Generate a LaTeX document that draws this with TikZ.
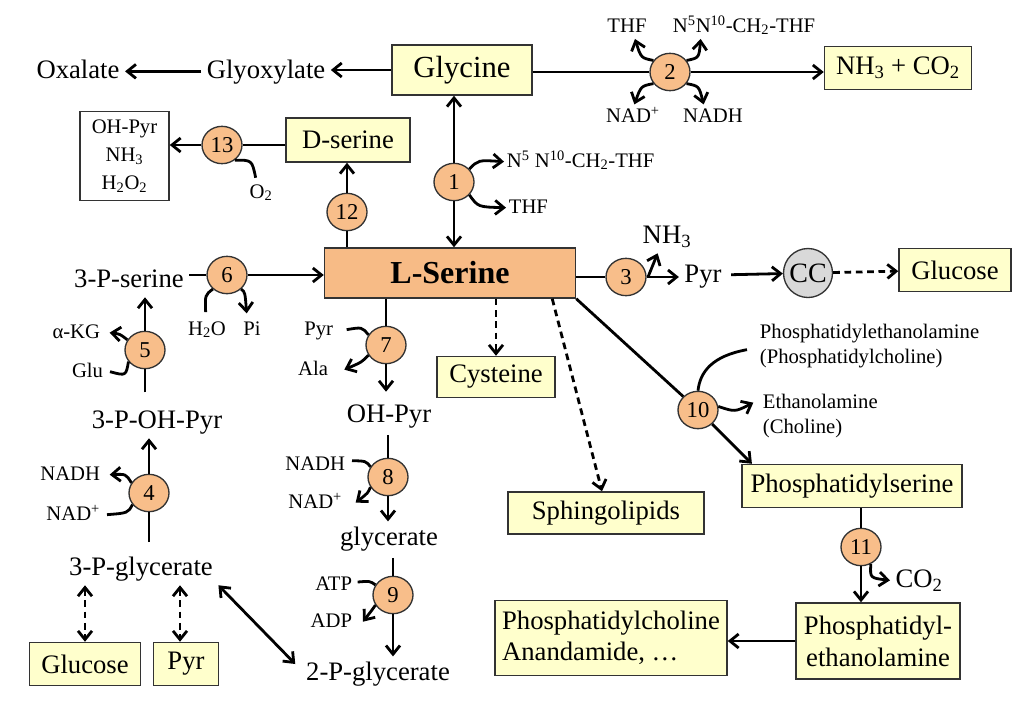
\documentclass[tikz,border=0pt]{standalone}
\usepackage{fontspec}
\setmainfont{Liberation Serif}
\usetikzlibrary{arrows.meta,shapes.geometric}
\definecolor{boxy}{HTML}{FFFFCC}
\definecolor{orng}{HTML}{F8BE8A}
\definecolor{sergb}{HTML}{F7BB86}
\definecolor{ccg}{HTML}{D9D9D9}
\definecolor{edge}{HTML}{333333}
\tikzset{
 big/.style={font=\fontsize{20}{24}\selectfont, inner xsep=4pt, inner ysep=3.5pt, text height=14pt, text depth=4pt},
 sml/.style={font=\fontsize{15.5}{18}\selectfont, inner xsep=2pt, inner ysep=2pt, text height=11pt, text depth=3pt},
 ybox/.style={draw=edge, fill=boxy, line width=1.1pt, inner sep=0pt, align=center, font=\fontsize{20}{23}\selectfont},
 enz/.style={ellipse, draw=edge, fill=orng, line width=1pt, minimum width=30pt, minimum height=28pt, inner sep=0pt, font=\fontsize{17}{17}\selectfont},
 ln/.style={line width=2.1pt},
 ar/.style={ln, -{Straight Barb[length=6.5pt,width=10.5pt]}},
 dar/.style={ln, {Straight Barb[length=6.5pt,width=10.5pt]}-{Straight Barb[length=6.5pt,width=10.5pt]}},
 dsh/.style={dash pattern=on 5pt off 3.5pt},
}
\begin{document}
\begin{tikzpicture}[x=0.75pt,y=-0.75pt]
\useasboundingbox (0,0) rectangle (1025,701);
% boxes
\node[ybox, minimum width=105pt, minimum height=37.5pt, font=\fontsize{23}{26}\selectfont] (gly) at (462,70) {Glycine};
\node[ybox, minimum width=110.25pt, minimum height=32.25pt] (nhco) at (898,68) {NH\textsubscript{3} + CO\textsubscript{2}};
\node[ybox, minimum width=93pt, minimum height=33pt] (dser) at (348,140) {D-serine};
\node[draw=edge, fill=white, line width=1.1pt, minimum width=66.75pt, minimum height=66.75pt, align=center, font=\fontsize{15.5}{21}\selectfont, inner sep=0pt] (ohbox) at (124.5,156) {OH-Pyr\\NH\textsubscript{3}\\H\textsubscript{2}O\textsubscript{2}};
\node[draw=edge, fill=sergb, line width=1.1pt, minimum width=188.25pt, minimum height=37.5pt, inner sep=0pt, font=\fontsize{24}{26}\selectfont\bfseries] (lser) at (450,273) {L-Serine};
\node[ybox, minimum width=88.5pt, minimum height=30.75pt] (cys) at (496,377) {Cysteine};
\node[ybox, minimum width=147pt, minimum height=31.5pt] (sph) at (606,513) {Sphingolipids};
\node[ybox, minimum width=84pt, minimum height=32.25pt] (glcR) at (955,270) {Glucose};
\node[ybox, minimum width=165pt, minimum height=32.25pt] (ps) at (852,486) {Phosphatidylserine};
\node[ybox, minimum width=123pt, minimum height=57pt, font=\fontsize{20}{24}\selectfont] (pe) at (878,641) {Phosphatidyl-\\ethanolamine};
\node[ybox, minimum width=174pt, minimum height=56.25pt, align=left] (pc) at (611,638) {Phosphatidylcholine\\Anandamide, …};
\node[ybox, minimum width=83.25pt, minimum height=32.25pt] (glcL) at (85,664) {Glucose};
\node[ybox, minimum width=48.75pt, minimum height=32.25pt] (pyrb) at (186,664) {Pyr};
% big labels
\node[big, anchor=base] (oxa) at (78,78) {Oxalate};
\node[big, anchor=base] (glyx) at (266,78) {Glyoxylate};
\node[big, anchor=base] (pser) at (129,287) {3-P-serine};
\node[big, anchor=base] (pohp) at (157,428) {3-P-OH-Pyr};
\node[big, anchor=base] (pgly) at (141,575) {3-P-glycerate};
\node[big, anchor=base] (p2gly) at (378,680) {2-P-glycerate};
\node[big, anchor=base] (ohp) at (389,422) {OH-Pyr};
\node[big, anchor=base] (glyc) at (389,545) {glycerate};
\node[big, anchor=base] (pyr3) at (703,282) {Pyr};
\node[big, anchor=base] (nh3) at (667,243) {NH\textsubscript{3}};
\node[big, anchor=base west] (co2) at (890,587) {CO\textsubscript{2}};
\node[circle, draw=edge, fill=ccg, line width=1pt, minimum size=36.75pt, inner sep=0pt, font=\fontsize{21}{21}\selectfont] (cc) at (808,273) {CC};
% small labels
\node[sml, anchor=base] (thf2) at (627,32) {THF};
\node[sml, anchor=base west] (mth2) at (670,32) {N\textsuperscript{5}N\textsuperscript{10}-CH\textsubscript{2}-THF};
\node[sml, anchor=base] (nad2) at (633,122) {NAD\textsuperscript{+}};
\node[sml, anchor=base] (nadh2) at (713,122) {NADH};
\node[sml, anchor=base west] (mth1) at (504,167) {N\textsuperscript{5} N\textsuperscript{10}-CH\textsubscript{2}-THF};
\node[sml, anchor=base west] (thf1) at (506,213) {THF};
\node[sml, anchor=base] (o2) at (261,198) {O\textsubscript{2}};
\node[sml, anchor=base] (h2o) at (207,335) {H\textsubscript{2}O};
\node[sml, anchor=base] (pi) at (252,335) {Pi};
\node[sml, anchor=base east] (akg) at (103,338) {α-KG};
\node[sml, anchor=base east] (glu) at (106,377) {Glu};
\node[sml, anchor=base east] (nadh4) at (103,480) {NADH};
\node[sml, anchor=base east] (nad4) at (103,520) {NAD\textsuperscript{+}};
\node[sml, anchor=base east] (pyr7) at (336,335) {Pyr};
\node[sml, anchor=base east] (ala7) at (331,375) {Ala};
\node[sml, anchor=base east] (nadh8) at (348,470) {NADH};
\node[sml, anchor=base east] (nad8) at (345,508) {NAD\textsuperscript{+}};
\node[sml, anchor=base east] (atp) at (355,590) {ATP};
\node[sml, anchor=base east] (adp) at (355,627) {ADP};
\node[sml, anchor=base west] (pe10) at (757,338) {Phosphatidylethanolamine};
\node[sml, anchor=base west] (pc10) at (757,363) {(Phosphatidylcholine)};
\node[sml, anchor=base west] (eth) at (760,408) {Ethanolamine};
\node[sml, anchor=base west] (cho) at (760,433) {(Choline)};
% enzymes
\node[enz] (e1) at (454,182) {1};
\node[enz] (e2) at (670,72) {2};
\node[enz] (e3) at (626,277) {3};
\node[enz] (e4) at (149,493) {4};
\node[enz] (e5) at (145,350) {5};
\node[enz] (e6) at (227,275) {6};
\node[enz] (e7) at (386,345) {7};
\node[enz] (e8) at (388,477) {8};
\node[enz] (e9) at (393,595) {9};
\node[enz] (e10) at (698,410) {10};
\node[enz] (e11) at (861,547) {11};
\node[enz] (e12) at (347,212) {12};
\node[enz] (e13) at (222,145) {13};
% top row
\draw[ar] (gly.west) -- (gly.west -| glyx.east);
\draw[ar] (glyx.west) -- (glyx.west -| oxa.east);
\draw[ln] (gly.east |- e2) -- (e2.west);
\draw[ar] (e2.east) -- (e2 -| nhco.west);
\draw[ar] (e2.145) .. controls (641,58) .. ([xshift=6pt]thf2.south);
\draw[ar] (e2.35) .. controls (699,58) .. ([xshift=23pt]mth2.south west);
\draw[ar] (e2.215) .. controls (641,86) .. ([xshift=1pt]nad2.north);
\draw[ar] (e2.-35) .. controls (699,86) .. ([xshift=-7pt]nadh2.north);
% enzyme 1
\draw[ar] (e1.north) -- (e1 |- gly.south);
\draw[ar] (e1.south) -- (e1 |- lser.north);
\draw[ar] (e1.40) .. controls (478,160) .. (mth1.west);
\draw[ar] (e1.-40) .. controls (478,207) .. (thf1.west);
% enzymes 12, 13
\draw[ln] (lser.north -| e12) -- (e12.south);
\draw[ar] (e12.north) -- (e12 |- dser.south);
\draw[ln] (dser.west |- e13) -- (e13.east);
\draw[ar] (e13.west) -- (e13 -| ohbox.east);
\draw[ln] (e13.-50) .. controls (252,160) .. ([xshift=-4pt,yshift=2pt]o2.north);
% enzyme 6
\draw[ln] (pser.east |- e6) -- (e6.west);
\draw[ar] (e6.east) -- (e6 -| lser.west);
\draw[ln] ([xshift=-1pt,yshift=4pt]h2o.north) .. controls (205,295) .. (e6.225);
\draw[ar] (e6.-45) .. controls (245,292) .. ([xshift=-4pt,yshift=3pt]pi.north);
% enzyme 5
\draw[ln, shorten <=9pt] (pohp.north -| e5) -- (e5.south);
\draw[ar] (e5.north) -- (pser.south -| e5);
\draw[ar] (e5.150) .. controls (120,334) .. ([xshift=5pt]akg.east);
\draw[ln] ([xshift=3pt]glu.east) .. controls (126,376) .. (e5.215);
% enzyme 4
\draw[ln, shorten <=7pt] (pgly.north -| e4) -- (e4.south);
\draw[ar] (e4.north) -- (pohp.south -| e4);
\draw[ar] (e4.150) .. controls (126,474) .. ([xshift=5pt]nadh4.east);
\draw[ln] ([xshift=3pt]nad4.east) .. controls (128,513) .. (e4.215);
% 3-P-glycerate
\coordinate (pyrt) at ([xshift=-4.5pt]pyrb.north);
\draw[dar, dsh] (pgly.south -| glcL.north) -- (glcL.north);
\draw[dar, dsh] (pgly.south -| pyrt) -- (pyrt);
\draw[dar] (pgly.south east) -- ([xshift=-4pt,yshift=7pt]p2gly.west);
% enzymes 7, 8, 9
\draw[ln] (lser.south -| e7) -- (e7.north);
\draw[ar, shorten >=5pt] (e7.south) -- (ohp.north -| e7);
\draw[ln, shorten <=2pt] (ohp.south -| e8) -- (e8.north);
\draw[ar] (e8.south) -- (glyc.north -| e8);
\draw[ln, shorten <=2pt] (glyc.south -| e9) -- (e9.north);
\draw[ar] (e9.south) -- (p2gly.north -| e9);
\draw[ln] ([xshift=8pt]pyr7.east) .. controls (362,327) .. (e7.150);
\draw[ar] (e7.210) .. controls (362,362) .. ([xshift=10pt]ala7.east);
\draw[ln] ([xshift=3pt,yshift=3pt]nadh8.east) .. controls (366,461) .. (e8.150);
\draw[ar] (e8.210) .. controls (368,493) .. ([xshift=8pt]nad8.east);
\draw[ln] ([xshift=2pt,yshift=2pt]atp.east) .. controls (370,581) .. (e9.150);
\draw[ar] (e9.210) .. controls (372,610) .. ([xshift=6pt]adp.east);
% dashed from L-serine
\draw[ar, dsh] (lser.south -| cys) -- (cys.north);
\draw[ar, dsh] ([xshift=-18pt]lser.south east) -- ([xshift=-3pt]sph.north);
% enzyme 3
\draw[ln] (lser.east |- e3) -- (e3.west);
\draw[ar] (e3.east) -- (e3 -| pyr3.west);
\draw[ar] ([xshift=1pt]e3.east) -- ([xshift=-7pt]nh3.south);
\draw[ar, shorten <=3pt] (pyr3) -- (cc);
\draw[ar, dsh] (cc) -- (glcR);
% enzyme 10
\draw[ln] (lser.south east) -- (e10);
\draw[ar] (e10) -- ([xshift=8pt]ps.north west);
\draw[ln] ([xshift=-7.5pt,yshift=6pt]pc10.west) .. controls (712,356) and (700,372) .. (e10.north);
\draw[ar] (e10.10) .. controls (735,412) .. ([xshift=-5pt]eth.west);
% enzyme 11
\draw[ln] (ps.south -| e11) -- (e11.north);
\draw[ar] (e11.south) -- (e11 |- pe.north);
\draw[ar] (e11.-60) .. controls (870,578) .. (co2.west);
\draw[ar] (pe.west) -- (pe.west -| pc.east);
\end{tikzpicture}
\end{document}
